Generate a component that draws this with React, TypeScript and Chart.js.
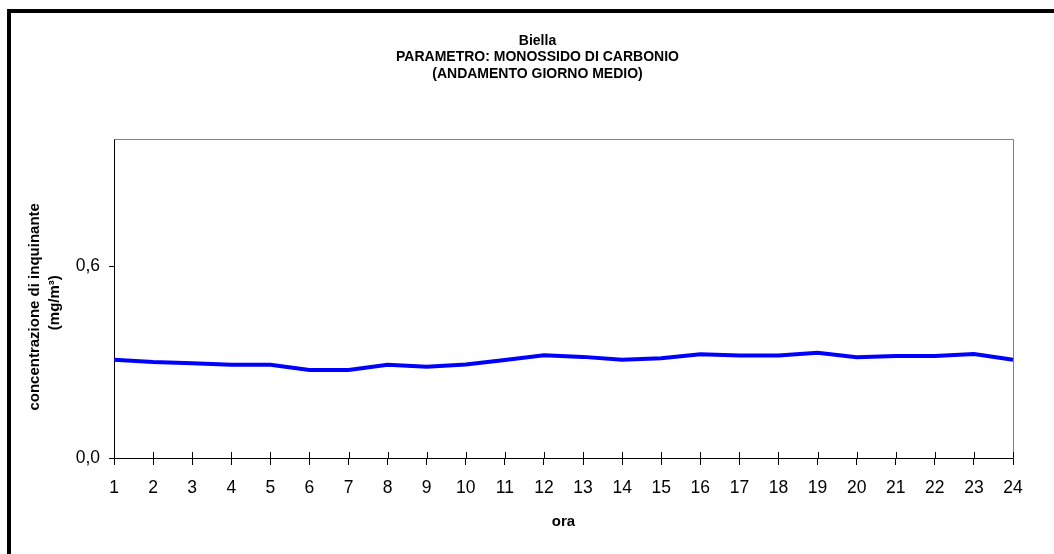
import React, { useEffect, useRef } from "react";
import { Chart, registerables } from "chart.js";

Chart.register(...registerables);

const titleLines = ["Biella", "PARAMETRO: MONOSSIDO DI CARBONIO", "(ANDAMENTO GIORNO MEDIO)"];
const hours = ["1","2","3","4","5","6","7","8","9","10","11","12","13","14","15","16","17","18","19","20","21","22","23","24"];
const coValues = [0.308, 0.301, 0.297, 0.292, 0.292, 0.276, 0.276, 0.292, 0.286, 0.293, 0.307, 0.322, 0.317, 0.308, 0.313, 0.325, 0.321, 0.321, 0.330, 0.316, 0.320, 0.320, 0.326, 0.308];
const yTickValues = [0, 0.6];
const yTitle = ["concentrazione di inquinante    ", "(mg/m³)  "];
const xTitle = "ora";

const FONT = "'Liberation Sans', Arial, Helvetica, sans-serif";

const framePlugin = {
  id: "framePlugin",
  beforeDatasetsDraw(chart: any) {
    const { ctx, chartArea } = chart;
    ctx.save();
    ctx.strokeStyle = "#808080";
    ctx.lineWidth = 1;
    ctx.beginPath();
    ctx.moveTo(Math.round(chartArea.left) + 0.5, Math.round(chartArea.top) + 0.5);
    ctx.lineTo(Math.round(chartArea.right) + 0.5, Math.round(chartArea.top) + 0.5);
    ctx.lineTo(Math.round(chartArea.right) + 0.5, Math.round(chartArea.bottom) + 0.5);
    ctx.stroke();
    ctx.restore();
  },
  afterDraw(chart: any) {
    const { ctx, chartArea } = chart;
    const xs = chart.scales.x;
    ctx.save();
    ctx.strokeStyle = "#000";
    ctx.lineWidth = 1;
    ctx.beginPath();
    for (let i = 0; i < xs.ticks.length; i++) {
      const px = Math.round(xs.getPixelForTick(i)) + 0.5;
      ctx.moveTo(px, chartArea.bottom - 6);
      ctx.lineTo(px, chartArea.bottom);
    }
    ctx.stroke();
    ctx.restore();
  },
};

export default function App() {
  const ref = useRef<HTMLCanvasElement>(null);
  useEffect(() => {
    if (!ref.current) return;
    Chart.defaults.font.family = FONT;
    Chart.defaults.color = "#000";
    const chart = new Chart(ref.current, {
      type: "line",
      data: {
        labels: hours,
        datasets: [
          {
            data: coValues,
            borderColor: "#0000FF",
            backgroundColor: "#0000FF",
            borderWidth: 4,
            pointRadius: 0,
            tension: 0,
            fill: false,
          },
        ],
      },
      options: {
        responsive: false,
        animation: false,
        devicePixelRatio: 1,
        layout: { padding: 0 },
        plugins: {
          legend: { display: false },
          tooltip: { enabled: false },
          title: {
            display: true,
            text: titleLines,
            color: "#000",
            font: { family: FONT, size: 14, weight: "bold", lineHeight: 16.7 / 14 },
            padding: { top: 32.5, bottom: 56.4 },
          },
        },
        scales: {
          x: {
            type: "category",
            offset: false,
            grid: { display: true, drawOnChartArea: false, drawTicks: true, tickLength: 7, color: "#000" },
            border: { display: true, color: "#000", width: 1 },
            ticks: { color: "#000", font: { family: FONT, size: 17.5 }, padding: 13, maxRotation: 0, autoSkip: false },
            title: {
              display: true,
              text: xTitle,
              color: "#000",
              font: { family: FONT, size: 15, weight: "bold", lineHeight: 20 / 15 },
              padding: { top: 0, bottom: 22.5 },
            },
            afterFit: (s: any) => { s.height = 96; },
          },
          y: {
            type: "linear",
            position: "left",
            min: 0,
            max: 1.0,
            grid: { display: true, drawOnChartArea: false, drawTicks: true, tickLength: 5, color: "#000" },
            border: { display: true, color: "#000", width: 1 },
            ticks: {
              color: "#000",
              font: { family: FONT, size: 17.5 },
              padding: 9,
              callback: (v: any) => Number(v).toFixed(1).replace(".", ","),
            },
            afterBuildTicks: (s: any) => { s.ticks = yTickValues.map((v) => ({ value: v })); },
            title: {
              display: true,
              text: yTitle,
              color: "#000",
              font: { family: FONT, size: 15, weight: "bold", lineHeight: 20 / 15 },
              padding: { top: 25, bottom: 0 },
            },
            afterFit: (s: any) => { s.width = 114; },
          },
          y2: {
            type: "linear",
            position: "right",
            display: true,
            grid: { display: false, drawTicks: false },
            border: { display: false },
            ticks: { display: false },
            afterFit: (s: any) => { s.width = 62; },
          },
        },
      },
      plugins: [framePlugin],
    } as any);
    return () => chart.destroy();
  }, []);

  return (
    <div style={{ position: "fixed", left: 0, top: 0, width: 1054, height: 554, overflow: "hidden", background: "#fff" }}>
      <canvas ref={ref} width={1075} height={554} style={{ position: "absolute", left: 0, top: 0, width: 1075, height: 554 }} />
      <div
        style={{
          position: "absolute",
          left: 7,
          top: 9,
          width: 1200,
          height: 700,
          borderTop: "4px solid #000",
          borderLeft: "4px solid #000",
          pointerEvents: "none",
        }}
      />
    </div>
  );
}
